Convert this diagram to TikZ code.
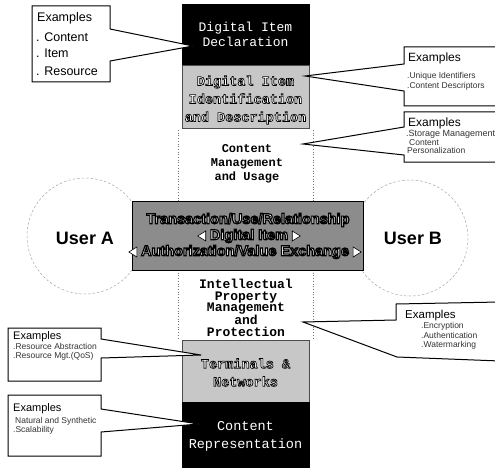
\documentclass[tikz,border=0pt]{standalone}
\usepackage{fontspec}
\setmainfont{Liberation Sans}
\newfontfamily\monof{Liberation Mono}
\newfontfamily\outsans[FakeBold=8]{Liberation Sans Bold}
\newfontfamily\outmono[FakeBold=5]{Liberation Mono Bold}
\usetikzlibrary{calc}
\newcommand\strokeblack{\special{pdf:literal direct 0 G}}
\tikzset{
 colbox/.style={minimum width=127pt, inner sep=0pt, outer sep=0pt},
 darkbox/.style={colbox, fill=black, draw=black, text=white, align=center, font=\monof\fontsize{13}{15.5}\selectfont},
 greybox/.style={colbox, fill=black!22, draw=black!70, line width=0.8pt},
 outmonotext/.style={text=white, align=center, font=\outmono\fontsize{13.5}{18}\selectfont, inner sep=0pt},
 coltext/.style={align=center, font=\monof\bfseries\fontsize{12}{14}\selectfont, inner sep=0pt},
 callout/.style={draw=black, line width=1pt, fill=white, line join=miter},
 exhead/.style={anchor=base west, inner sep=0pt, font=\fontsize{11.5}{13}\selectfont},
 exitem/.style={anchor=base west, inner sep=0pt, font=\fontsize{8.5}{10}\selectfont, text=black!80},
 usercirc/.style={draw=black!35, line width=0.5pt, dash pattern=on 2.5pt off 2pt},
 divline/.style={draw=black!55, line width=0.7pt, dotted},
 userlabel/.style={font=\bfseries\fontsize{18}{20}\selectfont, inner sep=0pt},
 centertext/.style={text=white, font=\outsans\fontsize{14.5}{16}\selectfont, inner sep=0pt},
 tri/.style={fill=white, draw=black, line width=0.6pt, line join=miter},
}
\begin{document}
\begin{tikzpicture}[x=1pt,y=-1pt]
\useasboundingbox (0,0) rectangle (495,468);
\fill[white] (0,0) rectangle (495,468);

% user circles
\draw[usercirc] (85,236) circle[radius=58];
\draw[usercirc] (410,238) circle[radius=58];

% dotted dividers
\coordinate (la1) at (178,130); \coordinate (la2) at (178,201);
\coordinate (lb1) at (178,270); \coordinate (lb2) at (178,340);
\coordinate (ra1) at (313,130); \coordinate (ra2) at (313,201);
\coordinate (rb1) at (313,270); \coordinate (rb2) at (313,340);
\draw[divline] (la1) -- (la2);
\draw[divline] (lb1) -- (lb2);
\draw[divline] (ra1) -- (ra2);
\draw[divline] (rb1) -- (rb2);

% column
\node[darkbox, minimum height=61pt] (did) at (245.5,34.5) {Digital Item\\Declaration};
\node[greybox, minimum height=63pt] (idd) at (245.5,96.5) {};
\node[outmonotext] (iddtext) at (245.5,100) {\strokeblack Digital Item\\Identification\\and Description};
\node[coltext] (cmu) at (247,164) {Content\\Management\\and Usage};

\node[draw=black, line width=1pt, fill=black!45, minimum width=231pt, minimum height=69pt, inner sep=0pt] (tuv) at (247.5,235.5) {};
\node[centertext] (r1) at (248,220) {\strokeblack Transaction/Use/Relationship};
\node[centertext] (r2) at (249,236) {\strokeblack Digital Item};
\node[centertext] (r3) at (245,252) {\strokeblack Authorization/Value Exchange};
\draw[tri] ($(r2.west)+(-4,-5)$) -- ($(r2.west)+(-4,5)$) -- ($(r2.west)+(-12,0)$) -- cycle;
\draw[tri] ($(r2.east)+(4,-5)$) -- ($(r2.east)+(4,5)$) -- ($(r2.east)+(12,0)$) -- cycle;
\draw[tri] ($(r3.west)+(-4,-5)$) -- ($(r3.west)+(-4,5)$) -- ($(r3.west)+(-12,0)$) -- cycle;
\draw[tri] ($(r3.east)+(4,-5)$) -- ($(r3.east)+(4,5)$) -- ($(r3.east)+(12,0)$) -- cycle;

\node[userlabel] (ua) at (85,238) {User A};
\node[userlabel] (ub) at (413,238) {User B};

\node[coltext, font=\monof\bfseries\fontsize{13}{11.5}\selectfont] (ipmp) at (246,308) {Intellectual\\Property\\Management\\and\\Protection};

\node[greybox, minimum height=62pt] (tn) at (245.5,371) {};
\node[outmonotext] (tntext) at (245.5,372.5) {\strokeblack Terminals \&\\Networks};
\node[darkbox, minimum height=68pt, font=\monof\fontsize{13.5}{18}\selectfont] (cr) at (245.5,436) {Content\\Representation};

% callout 1
\coordinate (t1) at (193,46);
\draw[callout] (32,6) -- (110,6) -- (110,29) -- (t1) -- (110,61) -- (110,82) -- (32,82) -- cycle;
\node[exhead, font=\fontsize{12.5}{14}\selectfont] (c1h) at (37,22) {Examples};
\node[exhead, font=\fontsize{12.5}{14}\selectfont] (c1a) at (36,41.5) {. Content};
\node[exhead, font=\fontsize{12.5}{14}\selectfont] (c1b) at (36,57.5) {. Item};
\node[exhead, font=\fontsize{12.5}{14}\selectfont] (c1c) at (36,76) {. Resource};

% callout 2
\coordinate (t2) at (305,76);
\draw[callout] (404,47) -- (500,47) -- (500,106) -- (404,106) -- (404,91) -- (t2) -- (404,64) -- cycle;
\node[exhead, font=\fontsize{12}{14}\selectfont] (c2h) at (408,62) {Examples};
\node[exitem] (c2a) at (407,79) {.Unique Identifiers};
\node[exitem] (c2b) at (407,89) {.Content Descriptors};

% callout 3
\coordinate (t3) at (303,144);
\draw[callout] (404,112) -- (500,112) -- (500,162) -- (404,162) -- (404,155) -- (t3) -- (404,127) -- cycle;
\node[exhead, font=\fontsize{12}{14}\selectfont] (c3h) at (408,127) {Examples};
\node[exitem, font=\fontsize{9}{10}\selectfont] (c3a) at (406,136.5) {.Storage Management};
\node[exitem] (c3b) at (409,145.5) {Content};
\node[exitem] (c3c) at (407,153.5) {Personalization};

% callout 4
\coordinate (t4) at (303,322);
\draw[callout] (396,304) -- (500,302) -- (500,361) -- (397,357) -- (t4) -- (396,320) -- cycle;
\node[exhead] (c4h) at (405,318) {Examples};
\node[exitem] (c4a) at (421,328.5) {.Encryption};
\node[exitem] (c4b) at (421,338.5) {.Authentication};
\node[exitem] (c4c) at (421,347.5) {.Watermarking};

% callout 5
\coordinate (t5) at (201,355);
\draw[callout] (8,328) -- (101,328) -- (101,339) -- (t5) -- (101,358) -- (101,381) -- (8,381) -- cycle;
\node[exhead, font=\fontsize{11}{13}\selectfont] (c5h) at (13,339) {Examples};
\node[exitem] (c5a) at (13,349) {.Resource Abstraction};
\node[exitem] (c5b) at (13,358) {.Resource Mgt.(QoS)};

% callout 6
\coordinate (t6) at (199,424);
\draw[callout] (8,395) -- (101,395) -- (101,409) -- (t6) -- (101,432) -- (101,456) -- (8,456) -- cycle;
\node[exhead, font=\fontsize{11}{13}\selectfont] (c6h) at (13,411) {Examples};
\node[exitem] (c6a) at (15,423) {Natural and Synthetic};
\node[exitem] (c6b) at (13,432) {.Scalability};
\end{tikzpicture}
\end{document}
